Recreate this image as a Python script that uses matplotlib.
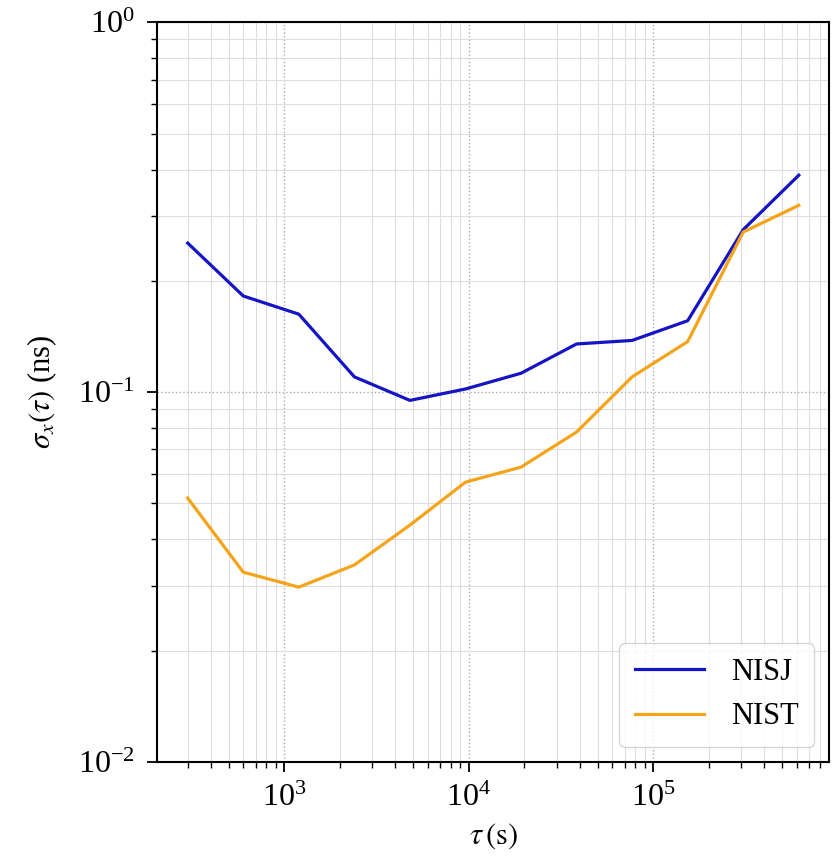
import matplotlib
matplotlib.use("Agg")
import matplotlib.pyplot as plt
import numpy as np

tau = [300, 600, 1200, 2400, 4800, 9600, 19200, 38400, 76800, 153600, 307200, 614400]
nisj = [0.253, 0.182, 0.1625, 0.110, 0.095, 0.102, 0.1125, 0.135, 0.138, 0.156, 0.275, 0.386]
nist = [0.0517, 0.0326, 0.0297, 0.0341, 0.0437, 0.0571, 0.0627, 0.078, 0.110, 0.137, 0.271, 0.320]

plt.rcParams["font.family"] = ["Liberation Serif", "DejaVu Serif"]
plt.rcParams["mathtext.fontset"] = "stix"

fig, ax = plt.subplots(figsize=(8.36, 8.6), dpi=100)
ax.plot(tau, nisj, color="#1414c4", lw=2.3, label="NISJ")
ax.plot(tau, nist, color="#f5a419", lw=2.3, label="NIST")
ax.set_xscale("log"); ax.set_yscale("log")
ax.set_ylim(1e-2, 1e0)
ax.grid(True, which="major", ls=":", color="#aaaaaa", lw=1.0)
ax.grid(True, which="minor", ls="-", color="#dddddd", lw=0.8)
ax.tick_params(labelsize=23, width=1.3, length=7)
ax.tick_params(axis="y", pad=9)
ax.tick_params(axis="x", pad=9)
ax.tick_params(which="minor", width=1.0, length=4)
for s in ax.spines.values():
    s.set_linewidth(1.5)
ax.set_xlabel(r"$\tau\,(\mathrm{s})$", fontsize=22, labelpad=6)
ax.set_ylabel(r"$\sigma_x(\tau)$ (ns)", fontsize=22, labelpad=14)
leg = ax.legend(loc="lower right", fontsize=22, handlelength=2.25, handletextpad=0.9,
                borderpad=0.5, labelspacing=0.5, borderaxespad=0.5, fancybox=True)
fig.subplots_adjust(left=0.188, right=0.992, top=0.974, bottom=0.114)
fig.savefig("out.png", dpi=100)
plt.close(fig)
